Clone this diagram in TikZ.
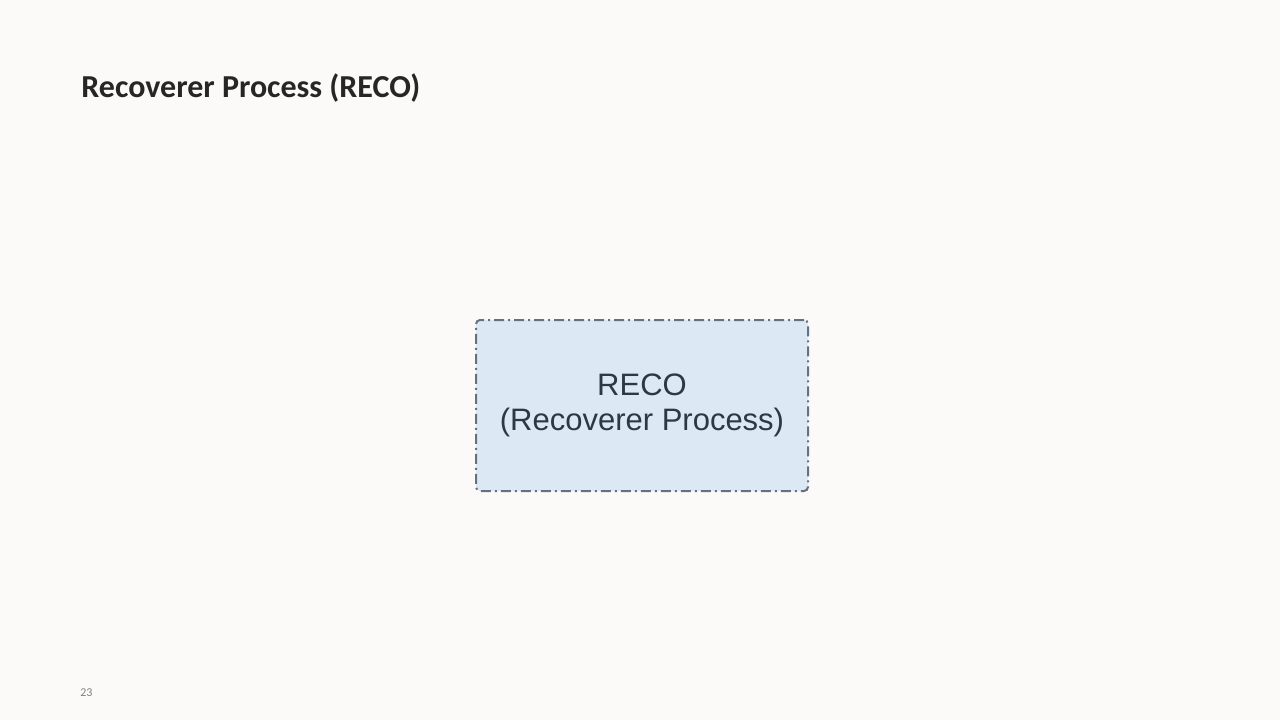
\documentclass[tikz,border=0pt]{standalone}
\usepackage{fontspec}
\setmainfont{Liberation Sans}
\newfontfamily\titlefont{Carlito}
\usetikzlibrary{positioning}
\definecolor{slideBg}{RGB}{251,250,248}
\definecolor{titleGray}{RGB}{38,38,38}
\definecolor{boxFill}{RGB}{221,232,245}
\definecolor{boxLine}{RGB}{100,114,128}
\definecolor{boxText}{RGB}{45,55,70}

\begin{document}
\begin{tikzpicture}[x=0.5pt, y=-0.5pt,
  procbox/.style={draw=boxLine, fill=boxFill, line width=1pt,
    dash pattern=on 5pt off 2pt on 1pt off 2pt,
    rounded corners=2pt, minimum width=166pt, minimum height=85.5pt,
    align=center, inner sep=0pt, text=boxText,
    font=\fontsize{15.5}{17.5}\selectfont}]
\fill[slideBg] (0,0) rectangle (1280,720);
\useasboundingbox (0,0) rectangle (1280,720);
% slide title
\node[anchor=base west, inner sep=0pt, text=titleGray,
  font=\titlefont\bfseries\fontsize{16}{19}\selectfont] (title) at (81,97)
  {Recoverer Process (RECO)};
% the single process box
\node[procbox] (reco) at (642,405.5) {RECO\\(Recoverer Process)};
% page number
\node[anchor=base west, inner sep=0pt, text=gray,
  font=\titlefont\fontsize{6}{7}\selectfont] (pagenum) at (80,696) {23};
\end{tikzpicture}
\end{document}
